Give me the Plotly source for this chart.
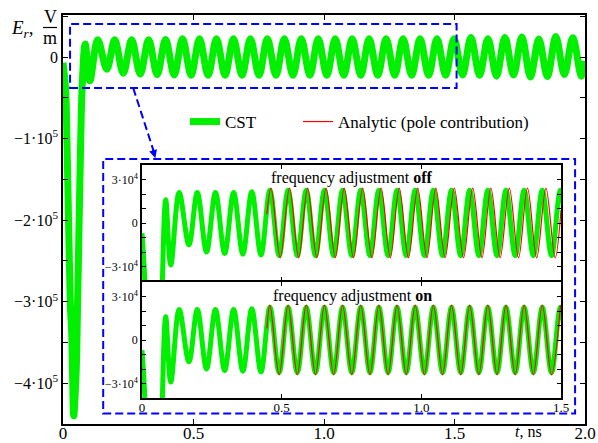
import plotly.graph_objects as go

# ---------------- data ----------------
# CST field E_r (V/m) vs time t (ns): transient + extrema of the oscillation
cst_t = [0.000, 0.010, 0.015, 0.020, 0.025, 0.029, 0.033, 0.037, 0.041, 0.050,
         0.056, 0.063, 0.068, 0.073, 0.085, 0.103, 0.133, 0.168, 0.198, 0.231,
         0.263, 0.296, 0.328, 0.361, 0.393, 0.426, 0.458, 0.491, 0.523, 0.556,
         0.588, 0.621, 0.653, 0.686, 0.718, 0.751, 0.783, 0.816, 0.848, 0.881,
         0.913, 0.946, 0.978, 1.011, 1.043, 1.076, 1.108, 1.141, 1.173, 1.206,
         1.238, 1.271, 1.303, 1.336, 1.368, 1.401, 1.433, 1.466, 1.498, 1.531,
         1.563, 1.596, 1.628, 1.661, 1.693, 1.726, 1.758, 1.791, 1.823, 1.856,
         1.888, 1.921, 1.953, 1.986, 2.000]
cst_v = [-7000, -40000, -100000, -180000, -260000, -310000, -335000, -395000, -440000, -390000,
         -300000, -180000, -100000, -40000, 16000, -29000, 21000, -15000, 21000, -20000,
         21000, -21000, 21000, -21500, 21500, -22000, 22500, -22500, 22500, -22500,
         22500, -22500, 22500, -22500, 22500, -22500, 22500, -22500, 22500, -22500,
         22500, -22500, 22500, -22500, 22500, -22500, 22500, -22500, 22500, -22500,
         22500, -22500, 22500, -22500, 22500, -22500, 22500, -22500, 22500, -22000,
         24000, -22500, 22500, -23500, 24000, -22000, 24500, -24500, 22000, -24000,
         25000, -21500, 23500, -23500, -5000]

# Analytic (pole contribution), frequency adjustment off
off_t = [0.447, 0.462, 0.495, 0.528, 0.561, 0.593, 0.626, 0.659, 0.692, 0.724,
         0.757, 0.790, 0.823, 0.856, 0.889, 0.921, 0.954, 0.987, 1.020, 1.052,
         1.085, 1.118, 1.151, 1.184, 1.217, 1.249, 1.282, 1.315, 1.348, 1.380,
         1.413, 1.446, 1.479, 1.500]
off_v = [6000, 24000, -24000, 24000, -24000, 24000, -24000, 24000, -24000, 24000,
         -24000, 24000, -24000, 24000, -24000, 24000, -24000, 24000, -24000, 24000,
         -24000, 24000, -24000, 24000, -24000, 24000, -24000, 24000, -24000, 24000,
         -24000, 24000, -24000, 9000]

# Analytic (pole contribution), frequency adjustment on
on_t = [0.447, 0.458, 0.491, 0.523, 0.556, 0.588, 0.621, 0.653, 0.686, 0.718,
        0.751, 0.783, 0.816, 0.848, 0.881, 0.913, 0.946, 0.978, 1.011, 1.043,
        1.076, 1.108, 1.141, 1.173, 1.206, 1.238, 1.271, 1.303, 1.336, 1.368,
        1.401, 1.433, 1.466, 1.498]
on_v = [8000, 24000, -24000, 24000, -24000, 24000, -24000, 24000, -24000, 24000,
        -24000, 24000, -24000, 24000, -24000, 24000, -24000, 24000, -24000, 24000,
        -24000, 24000, -24000, 24000, -24000, 24000, -24000, 24000, -24000, 24000,
        -24000, 24000, -24000, 24000]

main_x_ticks = [0, 0.5, 1.0, 1.5, 2.0]
main_x_labels = ["0", "0.5", "1.0", "1.5", "2.0"]
main_y_ticks = [0, -1e5, -2e5, -3e5, -4e5]
main_y_labels = ["0", "\u22121\u00b710<sup>5</sup>", "\u22122\u00b710<sup>5</sup>",
                 "\u22123\u00b710<sup>5</sup>", "\u22124\u00b710<sup>5</sup>"]
inset_x_ticks = [0, 0.5, 1.0, 1.5]
inset_x_labels = ["0", "0.5", "1.0", "1.5"]
inset_y_ticks = [-3e4, 0, 3e4]
inset_y_labels = ["\u22123\u00b710<sup>4</sup>", "0", "3\u00b710<sup>4</sup>"]

# ---------------- layout helpers ----------------
W, H = 598, 443
L, R, T, B = 63, 13, 15, 19
PW, PH = W - L - R, H - T - B


def px(x):   # screenshot x -> paper x
    return (x - L) / PW


def py(y):   # screenshot y -> paper y
    return (H - B - y) / PH


FONT = "Liberation Serif"
GREEN = "#00f000"
RED = "#ff0000"
BLUE = "#0000ff"


def tf(size):
    return dict(family=FONT, size=size, color="black")


fig = go.Figure()
fig.add_trace(go.Scatter(x=cst_t, y=cst_v, mode="lines", name="CST",
                         line=dict(color=GREEN, width=7, shape="spline"),
                         xaxis="x", yaxis="y", showlegend=True,
                         legend="legend"))
fig.add_trace(go.Scatter(x=cst_t, y=cst_v, mode="lines", name="CST",
                         line=dict(color=GREEN, width=5, shape="spline"),
                         xaxis="x2", yaxis="y2", showlegend=False))
fig.add_trace(go.Scatter(x=off_t, y=off_v, mode="lines",
                         name="Analytic (pole contribution)",
                         line=dict(color=RED, width=1.2, shape="spline"),
                         xaxis="x2", yaxis="y2", showlegend=True,
                         legend="legend2"))
fig.add_trace(go.Scatter(x=cst_t, y=cst_v, mode="lines", name="CST",
                         line=dict(color=GREEN, width=5, shape="spline"),
                         xaxis="x3", yaxis="y3", showlegend=False))
fig.add_trace(go.Scatter(x=on_t, y=on_v, mode="lines",
                         name="Analytic (pole contribution)",
                         line=dict(color=RED, width=1.2, shape="spline"),
                         xaxis="x3", yaxis="y3", showlegend=False))

axis_common = dict(showline=True, linecolor="black", mirror="ticks",
                   ticks="inside", tickcolor="black", showgrid=False,
                   zeroline=False, automargin=False)

inset_xdom = [px(142), px(561)]

legend_common = dict(orientation="h", y=py(122), xanchor="left",
                     yanchor="middle", bgcolor="rgba(0,0,0,0)", borderwidth=0,
                     font=tf(17), itemwidth=30)

fig.update_layout(
    template="none",
    width=W, height=H,
    margin=dict(l=L, r=R, t=T, b=B, pad=0, autoexpand=False),
    paper_bgcolor="white", plot_bgcolor="white",
    font=dict(family=FONT, color="black", size=16),
    xaxis=dict(domain=[0, 1], range=[0, 2.0], tickvals=main_x_ticks,
               ticktext=main_x_labels, ticklen=5, linewidth=1.5,
               tickfont=tf(17), ticklabelstandoff=-7, **axis_common),
    yaxis=dict(domain=[0, 1], range=[-4.5e5, 0.515e5], tickvals=main_y_ticks,
               ticktext=main_y_labels, ticklen=5, linewidth=1.5,
               tickfont=tf(16),
               minor=dict(dtick=5e4, tick0=0, ticks="inside", ticklen=5,
                          tickcolor="black"),
               **axis_common),
    xaxis2=dict(domain=inset_xdom, anchor="y2", range=[0, 1.5],
                tickvals=inset_x_ticks, showticklabels=False, ticklen=4,
                linewidth=1.5, **axis_common),
    yaxis2=dict(domain=[py(281), py(165)], anchor="x2", range=[-4e4, 4e4],
                tickvals=inset_y_ticks, ticktext=inset_y_labels, ticklen=4,
                linewidth=1.5, tickfont=tf(12),
                minor=dict(dtick=1e4, tick0=0, ticks="inside", ticklen=4,
                           tickcolor="black"),
                **axis_common),
    xaxis3=dict(domain=inset_xdom, anchor="y3", range=[0, 1.5],
                tickvals=inset_x_ticks, ticktext=inset_x_labels, ticklen=4,
                linewidth=1.5, tickfont=tf(13), ticklabelstandoff=-3,
                **axis_common),
    yaxis3=dict(domain=[py(398), py(282)], anchor="x3", range=[-4e4, 4e4],
                tickvals=inset_y_ticks, ticktext=inset_y_labels, ticklen=4,
                linewidth=1.5, tickfont=tf(12),
                minor=dict(dtick=1e4, tick0=0, ticks="inside", ticklen=4,
                           tickcolor="black"),
                **axis_common),
    legend=dict(x=px(185), **legend_common),
    legend2=dict(x=px(298), **legend_common),
)

# dashed zoom rectangles and arrow
fig.add_shape(type="rect", xref="x", yref="y", x0=0.027, x1=1.508,
              y0=-0.38e5, y1=0.405e5,
              line=dict(color=BLUE, width=2, dash="8px,4px"))
fig.add_shape(type="rect", xref="x", yref="y", x0=0.154, x1=1.962,
              y0=-4.37e5, y1=-1.252e5,
              line=dict(color=BLUE, width=2, dash="8px,4px"))
fig.add_shape(type="line", xref="x", yref="y", x0=0.269, y0=-0.38e5,
              x1=0.348, y1=-1.16e5,
              line=dict(color=BLUE, width=2, dash="8px,4px"))
fig.add_annotation(x=0.354, y=-1.24e5, xref="x", yref="y", text="",
                   showarrow=True, ax=-3, ay=-10, arrowhead=2, arrowsize=1,
                   arrowwidth=1.6, arrowcolor=BLUE, standoff=0)

# inset titles
fig.add_annotation(x=px(352), y=py(178), xref="paper", yref="paper",
                   text="frequency adjustment <b>off</b>", showarrow=False,
                   font=tf(16), xanchor="center", yanchor="middle")
fig.add_annotation(x=px(352), y=py(296), xref="paper", yref="paper",
                   text="frequency adjustment <b>on</b>", showarrow=False,
                   font=tf(16), xanchor="center", yanchor="middle")

# axis titles
fig.add_annotation(x=px(36), y=py(29), xref="paper", yref="paper",
                   text="<i>E</i><sub><i>r</i></sub>,", showarrow=False,
                   font=tf(19), xanchor="right", yanchor="middle")
fig.add_annotation(x=px(50), y=py(17), xref="paper", yref="paper",
                   text="V", showarrow=False, font=tf(18),
                   xanchor="center", yanchor="middle")
fig.add_annotation(x=px(50), y=py(38), xref="paper", yref="paper",
                   text="m", showarrow=False, font=tf(18),
                   xanchor="center", yanchor="middle")
fig.add_shape(type="line", xref="paper", yref="paper", x0=px(43), x1=px(57),
              y0=py(27.5), y1=py(27.5), line=dict(color="black", width=1.2))
fig.add_annotation(x=px(528), y=py(442), xref="paper", yref="paper",
                   text="<i>t</i>, ns", showarrow=False, font=tf(16),
                   xanchor="center", yanchor="bottom")

fig.write_html(
    "out.html",
    config={"displayModeBar": False},
    post_script="document.body.style.margin='0';"
                "document.body.style.overflow='hidden';",
)
